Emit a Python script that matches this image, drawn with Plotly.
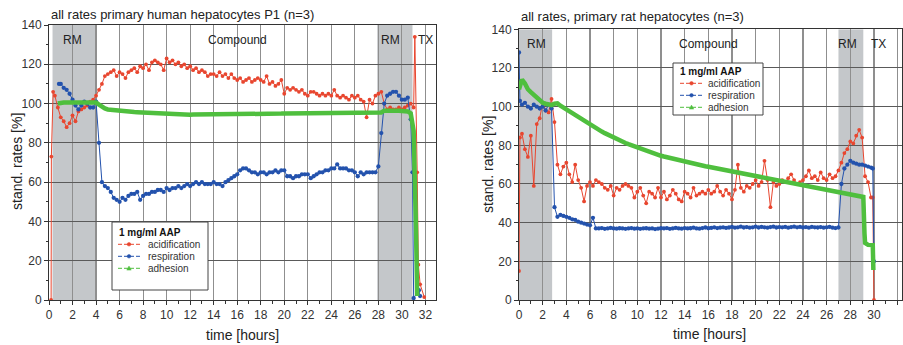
import plotly.graph_objects as go

W, H = 903, 345
FONT = "Liberation Sans, Arial, sans-serif"
RED = "#e8462f"
BLUE = "#2352ad"
GREEN = "#4fbf3e"
STEP = 0.25

# ---------------- left panel: primary human hepatocytes ----------------
L_acid_head_t = [0.18, 0.2, 0.35, 0.5]
L_acid_head_v = [0, 73, 106, 104]
L_acid_start = 0.75
L_acid_v = [98, 93, 91, 88, 90, 94, 91, 96, 97, 98, 99, 101, 102, 104,
            107, 110, 114, 115,
            116, 117, 114, 116, 115, 113, 116, 117, 118, 116, 119, 118,
            120, 117, 121, 122, 121, 120, 117, 123, 121, 122, 120, 121,
            119, 120, 118, 119, 117, 118, 116, 117, 116, 114, 115, 115,
            114, 116, 114, 115, 113, 115, 113, 112, 113, 111, 112, 113,
            111, 112, 113, 112, 111, 114, 110, 111, 109, 110, 112, 105,
            108, 107, 108, 107, 106, 107, 105, 104, 106, 106, 105, 104,
            105, 104, 105, 104, 107, 104, 103, 104, 103, 102, 104, 103,
            104, 102, 101, 93, 102, 100, 104, 105, 106, 100, 97, 98,
            97, 97, 98, 97, 98, 99, 100, 98]
L_acid_tail_t = [31.1, 31.3, 31.4, 31.55, 31.9]
L_acid_tail_v = [134, 65, 18, 8, 1.5]

L_resp_head_t = [0.85]
L_resp_head_v = [110]
L_resp_start = 1.0
L_resp_v = [110, 108, 107, 105, 102,
            99, 97, 99, 101, 100, 98, 98, 101, 80, 60, 58, 57,
            55, 52, 51, 50, 52, 51, 53, 54, 54, 55, 51, 53,
            54, 54, 55, 55, 56, 56, 55, 57, 56, 57, 57, 58,
            57, 58, 59, 58, 59, 60, 59, 60, 59, 59, 59, 60,
            59, 59, 58, 60, 61, 62, 63, 64, 66, 67, 67, 66,
            65, 65, 64, 65, 65, 64, 65, 65, 66, 65, 66, 66,
            63, 63, 62, 63, 63, 64, 64, 64, 62, 63, 64, 65,
            65, 66, 66, 67, 67, 69, 67, 67, 67, 66, 66, 65,
            63, 65, 64, 65, 65, 65, 65, 68, 85, 100, 104, 105,
            106, 106, 104, 102, 102, 103, 92]
L_resp_tail_t = [30.9, 31.0, 31.45, 31.55]
L_resp_tail_v = [65, 1, 5, 2]

L_adh_start = 0.75
L_adh_v = [100, 100.5,
           100.5, 100.5, 100.5, 100.5, 100.5, 100.5, 101, 101,
           101, 101, 101, 100.5, 99.5, 98.3, 97.5, 97,
           96.8, 96.6, 96.5, 96.4, 96.3, 96.1, 96, 95.8,
           95.7, 95.6, 95.5, 95.4, 95.3, 95.2, 95.1, 95,
           94.9, 94.8, 94.7, 94.6, 94.5, 94.5, 94.4, 94.4,
           94.3, 94.3, 94.3, 94.3, 94.4, 94.4, 94.4, 94.5,
           94.5, 94.5, 94.5, 94.6, 94.6, 94.6, 94.6, 94.7,
           94.7, 94.7, 94.7, 94.8, 94.8, 94.8, 94.8, 94.8,
           94.8, 94.8, 94.9, 94.9, 94.9, 94.9, 94.9, 94.9,
           94.9, 94.9, 94.9, 95, 95, 95, 95, 95, 95, 95, 95, 95,
           95, 95, 95, 95, 95, 95, 95, 95, 95, 95, 95, 95,
           95, 95, 95, 95, 95, 95, 95, 95, 95, 95, 95, 95,
           95.5, 96.4, 96.5, 96.5, 96.5, 96.4, 96.3, 96.2,
           96, 96, 95]
L_adh_tail_t = [30.9, 31.0, 31.2, 31.3]
L_adh_tail_v = [91, 86, 36, 2]

# ---------------- right panel: primary rat hepatocytes ----------------
R_acid_head_t = [0.0, 0.08]
R_acid_head_v = [15, 84]
R_acid_start = 0.25
R_acid_v = [86, 78, 74, 85, 59, 91, 94, 102, 98, 97, 104, 92,
            70, 65, 69, 71, 65, 61, 70, 62, 58, 51, 59, 61,
            59, 62, 61, 60, 58, 57, 59, 54, 58, 57, 59, 60,
            59, 58, 53, 56, 58, 54, 50, 56, 55, 53, 58, 53,
            56, 52, 54, 57, 55, 52, 51, 56, 55, 53, 58, 54,
            55, 56, 55, 57, 55, 56, 59, 56, 54, 57, 55, 52,
            57, 70, 58, 56, 59, 58, 60, 62, 59, 61, 72, 62,
            48, 61, 59, 60, 62, 61, 63, 65, 62, 60, 61, 62,
            64, 67, 63, 64, 62, 66, 63, 62, 65, 63, 64, 67,
            71, 76, 78, 82, 81, 85, 88, 84, 64, 61, 53]
R_acid_tail_t = [29.9, 30.0]
R_acid_tail_v = [53, 0]

R_resp_head_t = [0.0, 0.08]
R_resp_head_v = [128, 103]
R_resp_start = 0.25
R_resp_v = [101, 102, 100, 99, 101, 100, 99, 100, 98, 101, 99, 48,
            43, 44, 43.5, 43, 42.5, 41.7, 41.4, 40.5, 40, 39.5, 39, 38.6,
            42.5, 37, 37, 37.2, 36.8, 37, 37.3, 37, 36.9, 37.1, 37, 36.8,
            37, 37.2, 36.9, 37, 36.8, 37, 37.1, 36.9, 37, 36.7, 36.9, 37.1,
            37, 37.2, 36.8, 37, 37.3, 37, 36.9, 37.2, 37, 37.1, 37.4, 37,
            36.9, 37.2, 37.5, 37.1, 37.3, 37.6, 37.2, 37.4, 37.6, 37.3, 37.5, 37.8,
            37.4, 37.6, 37.9, 37.5, 37.7, 37.4, 37.6, 37.9, 37.5, 37.8, 37.6, 37.4,
            37.7, 37.9, 37.5, 37.7, 37.6, 37.8, 37.4, 37.7, 37.9, 37.6, 37.8, 37.5,
            37.7, 37.4, 37.8, 37.6, 37.5, 37.7, 37.4, 37.6, 37.8, 37.4, 37.2, 37.5,
            60, 68, 70, 72, 71, 70.5, 70, 70, 69.5, 69, 68.5]
R_resp_tail_t = [29.9, 30.0]
R_resp_tail_v = [68, 20]

R_adh_head_t = [0.0]
R_adh_head_v = [109]
R_adh_start = 0.25
R_adh_v = [114, 112, 109, 107.5, 106, 104.5, 103, 102,
           101.5, 101, 100.8, 101.5, 101.7, 100.5, 99.5, 98.5,
           97.5, 96.5, 95.5, 94.5, 93.5, 92.5, 91.5, 90.5,
           89.6, 88.7, 87.9, 87.1, 86.3, 85.5, 84.7, 84,
           83.3, 82.6, 81.9, 81.2, 80.6, 80, 79.4, 78.8,
           78.2, 77.6, 77.1, 76.6, 76.1, 75.6, 75.1, 74.6,
           74.2, 73.8, 73.4, 73, 72.6, 72.2, 71.8, 71.4,
           71, 70.7, 70.4, 70.1, 69.8, 69.5, 69.2, 68.9,
           68.6, 68.3, 68, 67.7, 67.4, 67.1, 66.8, 66.5,
           66.2, 65.9, 65.6, 65.3, 65, 64.7, 64.4, 64.1,
           63.8, 63.5, 63.2, 62.9, 62.6, 62.3, 62, 61.7,
           61.5, 61.2, 60.9, 60.6, 60.4, 60.1, 59.8, 59.5,
           59.3, 59, 58.7, 58.4, 58.2, 57.9, 57.6, 57.3,
           57.1, 56.8, 56.5, 56.2, 55.9, 55.6, 55.3, 55,
           54.6, 54.2, 53.8, 53.4]
R_adh_tail_t = [29.1, 29.2, 29.25, 29.5, 29.9, 29.95]
R_adh_tail_v = [53.3, 34.5, 29.5, 28.5, 28.4, 15.5]

# phase labels and periods
L_phases = [("RM", 0.3, 4.05), ("RM", 27.9, 30.9)]
R_phases = [("RM", 0.0, 2.8), ("RM", 27.0, 29.1)]
L_labels = [("RM", 2.0), ("Compound", 16.0), ("RM", 29.0), ("TX", 32.0)]
R_labels = [("RM", 1.45), ("Compound", 16.0), ("RM", 27.8), ("TX", 30.4)]
series_names = ["acidification", "respiration", "adhesion"]
legend_title = "1 mg/ml AAP"


def grid(t0, vals):
    return [round(t0 + STEP * i, 3) for i in range(len(vals))]


def build(head_t, head_v, start, vals, tail_t, tail_v):
    return head_t + grid(start, vals) + tail_t, head_v + vals + tail_v


Lx_a, Ly_a = build(L_acid_head_t, L_acid_head_v, L_acid_start, L_acid_v, L_acid_tail_t, L_acid_tail_v)
Lx_r, Ly_r = build(L_resp_head_t, L_resp_head_v, L_resp_start, L_resp_v, L_resp_tail_t, L_resp_tail_v)
Lx_g, Ly_g = build([], [], L_adh_start, L_adh_v, L_adh_tail_t, L_adh_tail_v)
Rx_a, Ry_a = build(R_acid_head_t, R_acid_head_v, R_acid_start, R_acid_v, R_acid_tail_t, R_acid_tail_v)
Rx_r, Ry_r = build(R_resp_head_t, R_resp_head_v, R_resp_start, R_resp_v, R_resp_tail_t, R_resp_tail_v)
Rx_g, Ry_g = build(R_adh_head_t, R_adh_head_v, R_adh_start, R_adh_v, R_adh_tail_t, R_adh_tail_v)

fig = go.Figure()


def add_series(x, y, xa, ya, color, kind, name):
    if kind == "adh":
        fig.add_trace(go.Scatter(x=x, y=y, xaxis=xa, yaxis=ya, mode="lines", name=name,
                                 line=dict(color=GREEN, width=4.5), showlegend=False,
                                 hoverinfo="skip"))
    else:
        fig.add_trace(go.Scatter(x=x, y=y, xaxis=xa, yaxis=ya, mode="lines+markers", name=name,
                                 line=dict(color=color, width=1),
                                 marker=dict(color=color, size=3.8 if kind == "acid" else 4.3),
                                 showlegend=False, hoverinfo="skip"))


add_series(Lx_a, Ly_a, "x", "y", RED, "acid", series_names[0])
add_series(Lx_r, Ly_r, "x", "y", BLUE, "resp", series_names[1])
add_series(Lx_g, Ly_g, "x", "y", GREEN, "adh", series_names[2])
add_series(Rx_a, Ry_a, "x2", "y2", RED, "acid", series_names[0])
add_series(Rx_r, Ry_r, "x2", "y2", BLUE, "resp", series_names[1])
add_series(Rx_g, Ry_g, "x2", "y2", GREEN, "adh", series_names[2])


def px(x):
    return x / W


def py(y):
    return (H - y) / H


shapes = []
for ph, x0, x1 in L_phases:
    shapes.append(dict(type="rect", xref="x", yref="y", x0=x0, x1=x1, y0=0, y1=140,
                       fillcolor="#c4c7ca", line=dict(width=0), layer="below"))
for ph, x0, x1 in R_phases:
    shapes.append(dict(type="rect", xref="x2", yref="y2", x0=x0, x1=x1, y0=0, y1=140,
                       fillcolor="#c4c7ca", line=dict(width=0), layer="below"))

ann = []
for txt, xv in L_labels:
    ann.append(dict(x=xv, y=137, xref="x", yref="y", text=txt, showarrow=False,
                    xanchor="center", yanchor="top", font=dict(size=12, color="#222", family=FONT)))
for txt, xv in R_labels:
    ann.append(dict(x=xv, y=137, xref="x2", yref="y2", text=txt, showarrow=False,
                    xanchor="center", yanchor="top", font=dict(size=12, color="#222", family=FONT)))

# manual legend boxes (pixel layout)
for (bx0, by0, bx1, by1, ty, row0, lx0, lx1, tx) in [
        (112, 222, 208, 290, 232, 244.3, 118, 140, 146),
        (673, 63, 763, 115, 71.5, 83.3, 680, 703, 706)]:
    shapes.append(dict(type="rect", xref="paper", yref="paper", x0=px(bx0), x1=px(bx1),
                       y0=py(by1), y1=py(by0), fillcolor="white",
                       line=dict(color="#444", width=1), layer="above"))
    ann.append(dict(x=px(bx0 + 5), y=py(ty), xref="paper", yref="paper", xanchor="left",
                    yanchor="middle", text="<b>" + legend_title + "</b>", showarrow=False,
                    font=dict(size=10, color="#111", family=FONT)))
    for i, (nm, col) in enumerate(zip(series_names, [RED, BLUE, GREEN])):
        yy = row0 + i * 12
        shapes.append(dict(type="line", xref="paper", yref="paper", x0=px(lx0), x1=px(lx1),
                           y0=py(yy), y1=py(yy), line=dict(color=col, width=1, dash="4px,2px"),
                           layer="above"))
        cx = (lx0 + lx1) / 2
        if i < 2:
            shapes.append(dict(type="circle", xref="paper", yref="paper",
                               x0=px(cx - 1.8), x1=px(cx + 1.8), y0=py(yy + 1.8), y1=py(yy - 1.8),
                               fillcolor=col, line=dict(color=col, width=0.5), layer="above"))
        else:
            path = "M {:.5f} {:.5f} L {:.5f} {:.5f} L {:.5f} {:.5f} Z".format(
                px(cx - 2.2), py(yy + 1.8), px(cx + 2.2), py(yy + 1.8), px(cx), py(yy - 2.2))
            shapes.append(dict(type="path", xref="paper", yref="paper", path=path,
                               fillcolor=col, line=dict(color=col, width=0.5), layer="above"))
        ann.append(dict(x=px(tx), y=py(yy), xref="paper", yref="paper", xanchor="left",
                        yanchor="middle", text=nm, showarrow=False,
                        font=dict(size=10, color="#333", family=FONT)))

ann += [
    dict(x=px(49), y=py(14), xref="paper", yref="paper", xanchor="left", yanchor="middle",
         text="all rates primary human hepatocytes P1 (n=3)", showarrow=False,
         font=dict(size=13, color="#222", family=FONT)),
    dict(x=px(519), y=py(17), xref="paper", yref="paper", xanchor="left", yanchor="middle",
         text="all rates, primary rat hepatocytes (n=3)", showarrow=False,
         font=dict(size=13, color="#222", family=FONT)),
    dict(x=px(17), y=py(162), xref="paper", yref="paper", textangle=-90,
         xanchor="center", yanchor="middle",
         text="stand. rates [%]", showarrow=False, font=dict(size=14, color="#222", family=FONT)),
    dict(x=px(488), y=py(165), xref="paper", yref="paper", textangle=-90,
         xanchor="center", yanchor="middle",
         text="stand. rates [%]", showarrow=False, font=dict(size=14, color="#222", family=FONT)),
    dict(x=px(242), y=py(335), xref="paper", yref="paper", xanchor="center", yanchor="middle",
         text="time [hours]", showarrow=False, font=dict(size=14, color="#222", family=FONT)),
    dict(x=px(709), y=py(334), xref="paper", yref="paper", xanchor="center", yanchor="middle",
         text="time [hours]", showarrow=False, font=dict(size=14, color="#222", family=FONT)),
]


def xaxis(domain, rng, anchor):
    return dict(domain=domain, range=rng, tick0=0, dtick=2, showgrid=True,
                gridcolor="#8f8f8f", gridwidth=1.2, zeroline=False, showline=True,
                linecolor="#333", linewidth=1, mirror=True, ticks="outside", ticklen=4,
                tickcolor="#333", tickfont=dict(size=12, color="#333", family=FONT),
                minor=dict(dtick=1, ticks="outside", ticklen=2.5, tickcolor="#333", showgrid=False),
                fixedrange=True, automargin=False, anchor=anchor)


def yaxis(domain, anchor):
    return dict(domain=domain, range=[0, 140], tick0=0, dtick=20, showgrid=True,
                gridcolor="#5a5a5a", gridwidth=1, zeroline=False, showline=True,
                linecolor="#333", linewidth=1, mirror=True, ticks="outside", ticklen=4,
                tickcolor="#333", tickfont=dict(size=12, color="#333", family=FONT),
                minor=dict(dtick=10, ticks="outside", ticklen=2.5, tickcolor="#333", showgrid=False),
                anchor=anchor, fixedrange=True, automargin=False)


fig.update_layout(
    width=W, height=H, margin=dict(l=0, r=0, t=0, b=0, pad=0, autoexpand=False),
    paper_bgcolor="white", plot_bgcolor="white", showlegend=False,
    xaxis=xaxis([px(49), px(436)], [0, 32.9], "y"),
    yaxis=yaxis([45 / H, 320 / H], "x"),
    xaxis2=xaxis([px(519), px(902)], [0, 32.37], "y2"),
    yaxis2=yaxis([45 / H, (H - 29.3) / H], "x2"),
    shapes=shapes, annotations=ann,
    font=dict(family=FONT),
)

fig.write_html("out.html", config={"displayModeBar": False, "staticPlot": True},
               post_script="document.body.style.margin='0';document.body.style.padding='0';")
